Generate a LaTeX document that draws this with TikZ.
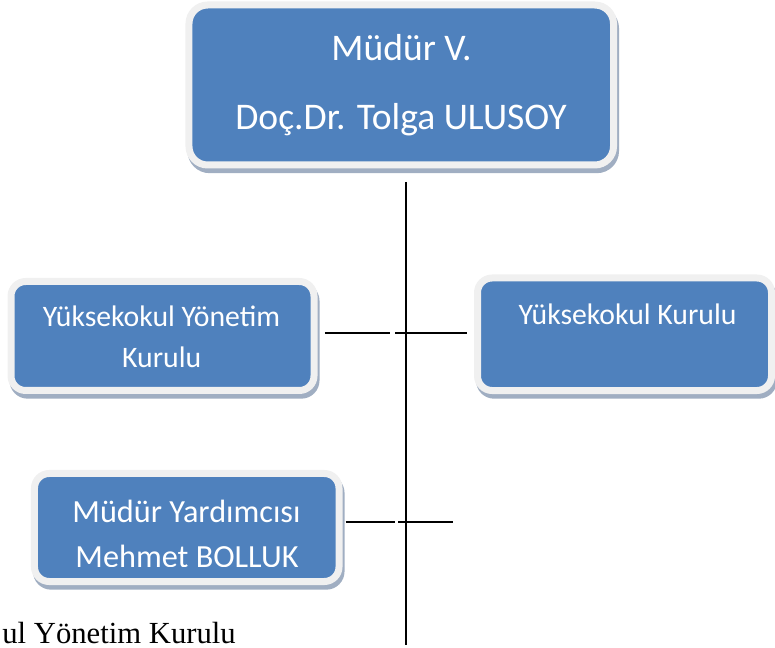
\documentclass[tikz,border=0pt]{standalone}
\usepackage{fontspec}
\setmainfont{Liberation Serif}
\newfontfamily\calibri{Carlito}
\usepackage{tikz}
\usetikzlibrary{shadows}

\definecolor{boxblue}{RGB}{79,129,189}
\definecolor{framegray}{RGB}{240,240,240}
\definecolor{shadowblue}{RGB}{160,174,194}

\tikzset{
  orgbox/.style={rectangle, rounded corners=11pt, inner sep=0pt,
    fill=boxblue, draw=framegray, line width=5.25pt,
    drop shadow={shadow xshift=1.5pt, shadow yshift=-3.5pt, fill=shadowblue,
      draw=shadowblue, line width=5.25pt, opacity=1}},
  boxtext/.style={anchor=base, inner sep=0pt, text=white, font=\calibri},
  conn/.style={draw=black, line width=1.2pt}
}

\begin{document}
\begin{tikzpicture}[x=0.75pt,y=0.75pt,yscale=-1,xscale=1]
\useasboundingbox (0,0) rectangle (775,648);

%Shape: Boxes
\node[orgbox, rounded corners=14pt, minimum width=318.4pt, minimum height=120pt] (mudur) at (401.25,85) {};
\node[orgbox, minimum width=227.25pt, minimum height=81.75pt] (ykyk) at (162.5,336) {};
\node[orgbox, minimum width=220.5pt, minimum height=84.4pt] (ykk) at (624.5,334.25) {};
\node[orgbox, minimum width=228.4pt, minimum height=81pt] (yard) at (186.75,527.5) {};

% Text Node
\node[boxtext, font=\calibri\fontsize{28.2}{30}\selectfont] (mudurA) at (401.5,60.7) {Müdür V.};
\node[boxtext, font=\calibri\fontsize{28.2}{30}\selectfont] (mudurB) at (401,130) {Doç.Dr. Tolga ULUSOY};
% Text Node
\node[boxtext, font=\calibri\fontsize{22.3}{24}\selectfont] (ykykA) at (161.5,326.7) {Yüksekokul Yönetim};
\node[boxtext, font=\calibri\fontsize{22.3}{24}\selectfont] (ykykB) at (161.7,368) {Kurulu};
% Text Node
\node[boxtext, font=\calibri\fontsize{22.3}{24}\selectfont] (ykkA) at (627.5,325) {Yüksekokul Kurulu};
% Text Node
\node[boxtext, font=\calibri\fontsize{24.2}{26}\selectfont] (yardA) at (186.5,522.7) {Müdür Yardımcısı};
\begin{scope}
\clip (0,0) rectangle (775,566);
\node[boxtext, font=\calibri\fontsize{24.2}{26}\selectfont] (yardB) at (187,567) {Mehmet BOLLUK};
\end{scope}
% Text Node
\node[anchor=base east, inner sep=0pt, font=\fontsize{23}{25}\selectfont] (altyazi) at (236,643) {ul Yönetim Kurulu};

%Straight Lines
\coordinate (spineTop) at (406,182);
\coordinate (spineEnd) at (406,645);
\coordinate (jL) at (390,333);
\coordinate (jR) at (395,333);
\coordinate (kL) at (395,522);
\coordinate (kR) at (398,522);
\coordinate (kEnd) at (453,522);
\draw[conn] (spineTop) -- (spineEnd);
\draw[conn, shorten <=5.6pt] (ykyk.east |- jL) -- (jL);
\draw[conn, shorten >=4.9pt] (jR) -- (ykk.west |- jR);
\draw[conn, shorten <=2.4pt] (yard.east |- kL) -- (kL);
\draw[conn] (kR) -- (kEnd);

\end{tikzpicture}
\end{document}
